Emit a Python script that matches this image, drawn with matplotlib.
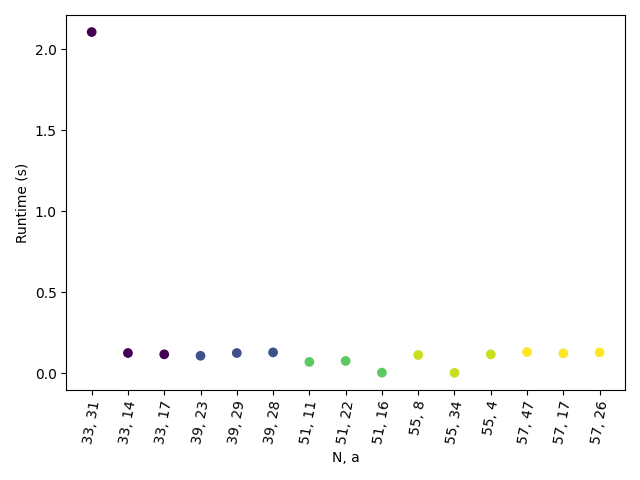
import matplotlib
matplotlib.use("Agg")
import matplotlib.pyplot as plt

labels = ["33, 31", "33, 14", "33, 17", "39, 23", "39, 29", "39, 28", "51, 11", "51, 22",
          "51, 16", "55, 8", "55, 34", "55, 4", "57, 47", "57, 17", "57, 26"]
N_values = [33, 33, 33, 39, 39, 39, 51, 51, 51, 55, 55, 55, 57, 57, 57]
runtimes = [2.105, 0.125, 0.117, 0.108, 0.125, 0.129, 0.070, 0.076, 0.004, 0.113,
            0.003, 0.117, 0.131, 0.123, 0.129]

fig, ax = plt.subplots(figsize=(6.4, 4.8), dpi=100)
ax.scatter(labels, runtimes, c=N_values, cmap="viridis")
ax.set_xlabel("N, a")
ax.set_ylabel("Runtime (s)")
plt.xticks(rotation=80)
fig.tight_layout()
fig.savefig("out.png")
